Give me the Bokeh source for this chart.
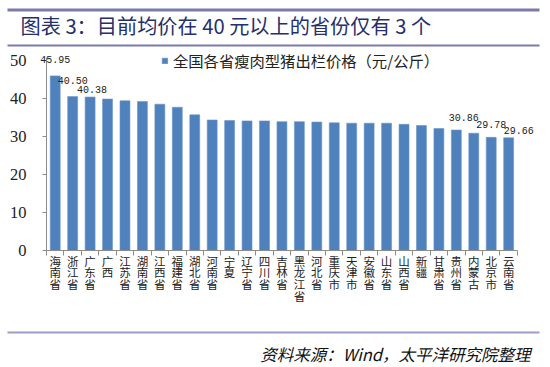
import numpy as np
from bokeh.plotting import figure
from bokeh.models import (Range1d, FixedTicker, LinearAxis, Label, LabelSet,
                          ColumnDataSource, Legend, LegendItem, BoxAnnotation)
from bokeh.core.properties import value
from bokeh.embed import file_html
from bokeh.resources import INLINE

# ---- data ----
provinces = ["海南省", "浙江省", "广东省", "广西", "江苏省", "湖南省", "江西省", "福建省",
             "湖北省", "河南省", "宁夏", "辽宁省", "四川省", "吉林省", "黑龙江省", "河北省",
             "重庆市", "天津市", "安徽省", "山东省", "山西省", "新疆", "甘肃省", "贵州省",
             "内蒙古", "北京市", "云南省"]
prices = [45.95, 40.50, 40.38, 39.85, 39.4, 39.2, 38.5, 37.7, 35.7, 34.35, 34.2, 34.1,
          34.1, 33.9, 33.9, 33.8, 33.6, 33.5, 33.5, 33.5, 33.2, 32.9, 32.1, 31.7,
          30.86, 29.78, 29.66]
y_ticks = [0, 10, 20, 30, 40, 50]
labeled = ["海南省", "浙江省", "广东省", "内蒙古", "北京市", "云南省"]
series_name = "全国各省瘦肉型猪出栏价格（元/公斤）"
title_text = "图表 3：目前均价在 40 元以上的省份仅有 3 个"
source_text = "资料来源：Wind，太平洋研究院整理"

# ---- styling (label nudges in px) ----
label_dx = [0, 0, 2, -10, 0, 10]
label_dy = [16, 16, 8, 16, 13, 7]

n = len(provinces)
xs = np.arange(n) + 0.5
W, H = 550, 367

# pixel geometry of the plotting area inside the canvas
X0, CAT_W = 46.0, 17.44      # x of first category edge, px per category
Y0, UNIT_H = 250.0, 3.8       # y of value 0, px per unit

p = figure(width=W, height=H, output_backend="svg", toolbar_location=None,
           x_range=Range1d(-X0 / CAT_W, (W - X0) / CAT_W),
           y_range=Range1d(-(H - Y0) / UNIT_H, Y0 / UNIT_H),
           x_axis_type=None, y_axis_type=None, min_border=0)
p.outline_line_color = None

bars = p.vbar(x=xs, top=prices, width=0.57, fill_color="#4F81BD", line_color="#6A95CA",
              line_width=0.6)

axis_col = "#8C8C8C"
yaxis = LinearAxis(ticker=FixedTicker(ticks=y_ticks), bounds=(0, 50.8), fixed_location=0)
yaxis.axis_line_color = axis_col
yaxis.major_tick_line_color = axis_col
yaxis.major_tick_out = 4
yaxis.major_tick_in = 0
yaxis.minor_tick_out = 0
yaxis.minor_tick_in = 0
yaxis.major_label_standoff = 16
yaxis.major_label_text_font = "Liberation Serif"
yaxis.major_label_text_font_size = "16.5px"
yaxis.major_label_text_color = "#222222"
p.add_layout(yaxis, "left")

xaxis = LinearAxis(ticker=FixedTicker(ticks=list(xs), minor_ticks=list(range(n + 1))),
                   bounds=(0, n), fixed_location=0)
xaxis.major_label_overrides = {float(x): "\n".join(name) for x, name in zip(xs, provinces)}
xaxis.axis_line_color = axis_col
xaxis.major_tick_out = 0
xaxis.major_tick_in = 0
xaxis.minor_tick_line_color = axis_col
xaxis.minor_tick_out = 5
xaxis.minor_tick_in = 0
xaxis.major_label_standoff = -3
xaxis.major_label_text_font = "Noto Sans CJK SC"
xaxis.major_label_text_font_size = "11.5px"
xaxis.major_label_text_line_height = 0.74
xaxis.major_label_text_color = "#222222"
p.add_layout(xaxis, "below")

idx = [provinces.index(name) for name in labeled]
lab_src = ColumnDataSource(dict(
    x=[xs[i] for i in idx],
    y=[prices[i] for i in idx],
    text=[f"{prices[i]:.2f}" for i in idx],
    dx=label_dx, dy=label_dy))
p.add_layout(LabelSet(x="x", y="y", text="text", x_offset="dx", y_offset="dy",
                      source=lab_src, text_align="center", text_baseline="middle",
                      text_font=value("Liberation Mono"), text_font_size="10px",
                      text_color="#222222"))

legend = Legend(items=[LegendItem(label=series_name, renderers=[bars])],
                location=(161, 296), padding=0, margin=0, spacing=0,
                border_line_color=None, background_fill_alpha=0,
                glyph_width=7, glyph_height=7, label_standoff=5, label_height=20,
                label_text_font="Noto Sans CJK SC", label_text_font_size="15.3px",
                label_text_color="#222222")
p.add_layout(legend)


def rule(top, bottom, color):
    p.add_layout(BoxAnnotation(left=7, right=539, top=top, bottom=bottom,
                               left_units="screen", right_units="screen",
                               top_units="screen", bottom_units="screen",
                               fill_color=color, fill_alpha=1, line_color=None))


# screen units measured from the bottom-left corner of the canvas
rule(H - 8, H - 11, "#7B7BAA")
rule(H - 44, H - 46, "#7B7BAA")
rule(H - 331, H - 333, "#9D9DC8")

p.add_layout(Label(x=20, y=H - 25, x_units="screen", y_units="screen", text=title_text,
                   text_font="Noto Sans CJK SC", text_font_size="20.2px",
                   text_color="#25306B", text_baseline="middle", text_align="left"))
p.add_layout(Label(x=530, y=H - 353, x_units="screen", y_units="screen", text=source_text,
                   text_font="Noto Sans CJK SC", text_font_size="16.5px",
                   text_font_style="italic", text_color="#111111",
                   text_baseline="middle", text_align="right"))

open("out.html", "w").write(file_html(p, INLINE))
